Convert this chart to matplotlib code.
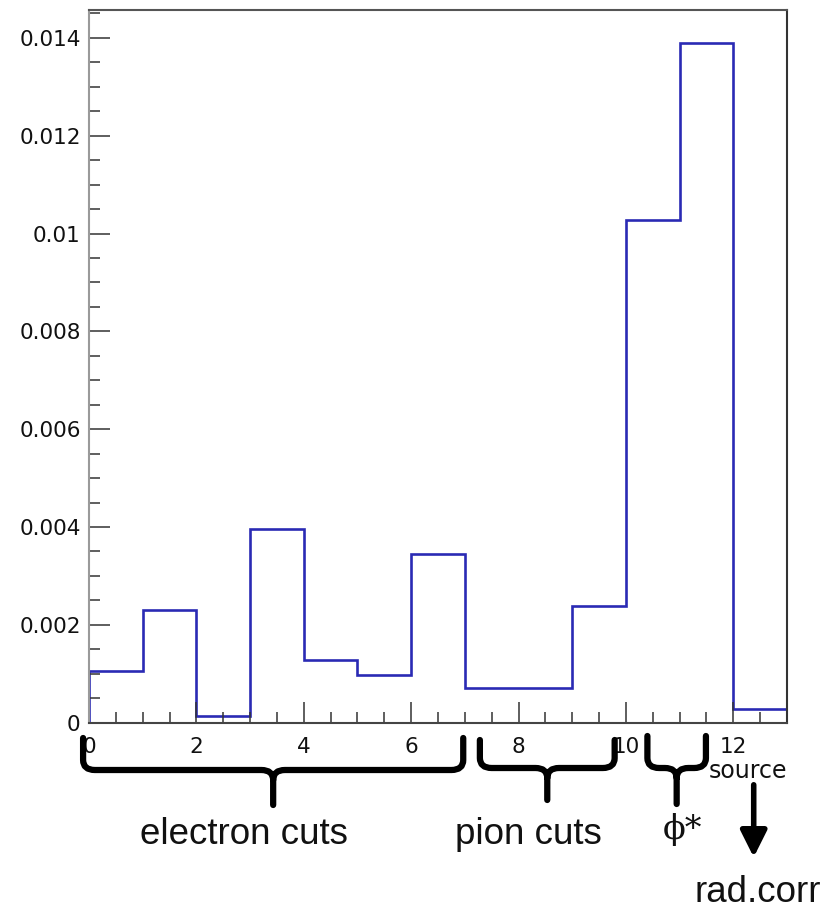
import matplotlib
matplotlib.use('Agg')
import matplotlib.pyplot as plt
import matplotlib.transforms as mtransforms
from matplotlib.path import Path
from matplotlib.patches import PathPatch, FancyArrowPatch
from matplotlib.ticker import MultipleLocator, FuncFormatter

# Systematic uncertainty per source (bins 0..12)
edges = list(range(0, 14))
values = [0.00106, 0.00230, 0.00014, 0.00397, 0.00128, 0.00097, 0.00345,
          0.00070, 0.00070, 0.00239, 0.01027, 0.01390, 0.00027]

# Groups of sources marked under the axis: (label, x start, x end)
group_labels = ['electron cuts', 'pion cuts', 'ϕ*']
group_start = [-0.11, 7.28, 10.40]
group_end = [6.97, 9.79, 11.49]
label_x = [2.89, 8.19, 11.05]

W, H = 824, 917
fig = plt.figure(figsize=(W / 100, H / 100), dpi=100)
ax = fig.add_axes([89 / W, 1 - 722.7 / H, (787 - 89) / W, (722.7 - 10) / H])

ax.stairs(values, edges, color='#2a2ab4', linewidth=1.9, baseline=0)

ax.set_xlim(0, 13)
ax.set_ylim(0, 0.01457)

ax.xaxis.set_major_locator(MultipleLocator(2))
ax.xaxis.set_minor_locator(MultipleLocator(0.5))
ax.yaxis.set_major_locator(MultipleLocator(0.002))
ax.yaxis.set_minor_locator(MultipleLocator(0.0005))
ax.yaxis.set_major_formatter(FuncFormatter(lambda v, p: '%g' % round(v, 6)))

ax.tick_params(which='both', direction='in', color='#333333', width=1.1,
               labelsize=15.5, labelcolor='#111111')
ax.tick_params(which='major', length=15)
ax.tick_params(which='minor', length=8)
ax.tick_params(axis='x', which='major', pad=10)
ax.tick_params(axis='y', which='major', pad=6)
for lab in ax.get_xticklabels() + ax.get_yticklabels():
    lab.set_family('DejaVu Sans')

ax.spines['left'].set_color('#9a9a9a')
ax.spines['top'].set_color('#555555')
ax.spines['right'].set_color('#333333')
ax.spines['bottom'].set_color('#444444')
for s in ax.spines.values():
    s.set_linewidth(1.5)

ax.set_xlabel('source', fontsize=17, family='DejaVu Sans', color='#111111',
              ha='right', va='center')
ax.xaxis.set_label_coords(1.0, -0.068)

# x in data units, y in figure pixels (measured from the top)
trans = mtransforms.blended_transform_factory(ax.transData, fig.transFigure)


def fy(px):
    return 1 - px / H


def brace(x0, x1, top, bar, tip):
    xc = (x0 + x1) / 2
    rx = 0.22
    ry = 10
    verts = [
        (x0, fy(top)), (x0, fy(bar - ry)),
        (x0, fy(bar)), (x0 + rx, fy(bar)),
        (xc - rx, fy(bar)),
        (xc, fy(bar)), (xc, fy(bar + ry)),
        (xc, fy(tip)),
        (xc, fy(bar + ry)),
        (xc, fy(bar)), (xc + rx, fy(bar)),
        (x1 - rx, fy(bar)),
        (x1, fy(bar)), (x1, fy(bar - ry)),
        (x1, fy(top)),
    ]
    codes = [Path.MOVETO, Path.LINETO,
             Path.CURVE3, Path.CURVE3,
             Path.LINETO,
             Path.CURVE3, Path.CURVE3,
             Path.LINETO,
             Path.MOVETO,
             Path.CURVE3, Path.CURVE3,
             Path.LINETO,
             Path.CURVE3, Path.CURVE3,
             Path.LINETO]
    patch = PathPatch(Path(verts, codes), transform=trans, fill=False,
                      edgecolor='black', linewidth=4.5, capstyle='round',
                      joinstyle='round', clip_on=False)
    fig.add_artist(patch)


brace(group_start[0], group_end[0], 738, 770, 805)
brace(group_start[1], group_end[1], 740, 768, 800)
brace(group_start[2], group_end[2], 736, 768, 804)

text_kw = dict(transform=trans, fontsize=26.5, family=['Liberation Sans', 'DejaVu Sans'],
               ha='center', va='center', color='#111111')
fig.text(label_x[0], fy(834), group_labels[0], **text_kw)
fig.text(label_x[1], fy(834), group_labels[1], **text_kw)
fig.text(label_x[2], fy(830), group_labels[2],
         transform=trans, fontsize=24, family=['DejaVu Serif'], ha='center',
         va='center', color='#111111')

# radiative correction pointer
arrow_x = 12.38
fig.add_artist(FancyArrowPatch(
    (arrow_x, fy(782)), (arrow_x, fy(860)), transform=trans,
    arrowstyle='-|>,head_length=10,head_width=5', mutation_scale=1.6,
    color='black', linewidth=4, clip_on=False))
fig.text(arrow_x + 0.08, fy(893), 'rad.corr', **text_kw)

fig.savefig('out.png', dpi=100)
